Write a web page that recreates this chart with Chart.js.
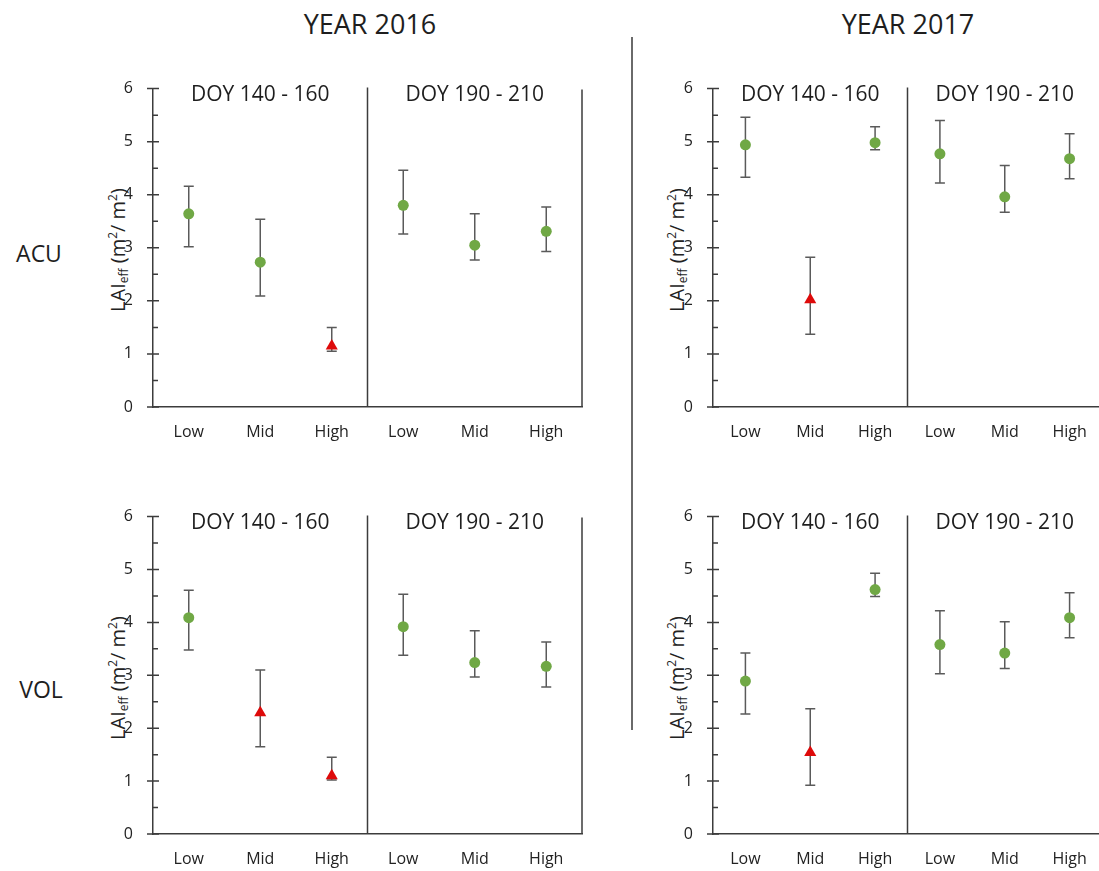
<!DOCTYPE html>
<html>
<head>
<meta charset="utf-8">
<script src="https://cdn.jsdelivr.net/npm/chart.js@4/dist/chart.umd.min.js"></script>
<style>
  html, body { margin:0; padding:0; background:#fff; width:1099px; height:871px; overflow:hidden; position:relative; font-family:"Open Sans", sans-serif; color:#222; }
  .cv { position:absolute; }
  .txt { position:absolute; white-space:nowrap; color:#1e1e1e; }
  .year { font-size:27px; transform:translate(-50%,-50%); }
  .row { font-size:23px; transform:translate(-50%,-50%); }
  .ytitle { font-size:20px; transform:translate(-50%,-50%) rotate(-90deg); color:#222; }
  .ytitle sub { font-size:12px; vertical-align:-3px; }
  .ytitle sup { font-size:12px; vertical-align:8px; }
  #sep { position:absolute; left:631px; top:37px; width:2px; height:693px; background:#6a6a6a; }
</style>
</head>
<body>
<div class="txt year" style="left:370px; top:23px;">YEAR 2016</div>
<div class="txt year" style="left:908px; top:23px;">YEAR 2017</div>
<div class="txt row" style="left:39px; top:253px;">ACU</div>
<div class="txt row" style="left:41px; top:689px;">VOL</div>
<div id="sep"></div>
<div class="txt ytitle" style="left:118px; top:250px;">LAI<sub>eff</sub> (m<sup>2</sup>/ m<sup>2</sup>)</div>
<div class="txt ytitle" style="left:677px; top:250px;">LAI<sub>eff</sub> (m<sup>2</sup>/ m<sup>2</sup>)</div>
<div class="txt ytitle" style="left:118px; top:678px;">LAI<sub>eff</sub> (m<sup>2</sup>/ m<sup>2</sup>)</div>
<div class="txt ytitle" style="left:677px; top:678px;">LAI<sub>eff</sub> (m<sup>2</sup>/ m<sup>2</sup>)</div>

<canvas id="c1" class="cv"></canvas>
<canvas id="c2" class="cv"></canvas>
<canvas id="c3" class="cv"></canvas>
<canvas id="c4" class="cv"></canvas>

<script>
// ---- data ----
const categories = ['Low','Mid','High','Low','Mid','High'];
const groupTitles = ['DOY 140 - 160','DOY 190 - 210'];
const yTickValues = [0,1,2,3,4,5,6];

const acu2016Mean  = [3.64, 2.73, 1.15, 3.80, 3.05, 3.31];
const acu2016Upper = [4.16, 3.54, 1.50, 4.46, 3.64, 3.77];
const acu2016Lower = [3.02, 2.09, 1.05, 3.26, 2.77, 2.93];
const acu2016Red   = [false, false, true, false, false, false];

const acu2017Mean  = [4.94, 2.02, 4.98, 4.77, 3.96, 4.68];
const acu2017Upper = [5.46, 2.82, 5.28, 5.40, 4.55, 5.15];
const acu2017Lower = [4.33, 1.37, 4.85, 4.22, 3.67, 4.30];
const acu2017Red   = [false, true, false, false, false, false];

const vol2016Mean  = [4.09, 2.29, 1.10, 3.92, 3.24, 3.17];
const vol2016Upper = [4.61, 3.10, 1.45, 4.53, 3.84, 3.63];
const vol2016Lower = [3.48, 1.65, 1.02, 3.38, 2.97, 2.78];
const vol2016Red   = [false, true, true, false, false, false];

const vol2017Mean  = [2.89, 1.54, 4.62, 3.58, 3.42, 4.09];
const vol2017Upper = [3.42, 2.37, 4.93, 4.22, 4.01, 4.56];
const vol2017Lower = [2.27, 0.92, 4.49, 3.03, 3.13, 3.71];
const vol2017Red   = [false, true, false, false, false, false];

// ---- styling ----
const GREEN = '#70a845';
const RED = '#de0a0a';
const AXIS = '#3c3c3c';
const ERR = '#5a5a5a';
const FONT = '"Open Sans", sans-serif';
const YW = 45, XH = 42, PADTOP = 16, PADRIGHT = 2;

const panelPlugin = {
  id: 'panelDecor',
  beforeDatasetsDraw(chart) {
    const ctx = chart.ctx;
    const xs = chart.scales.x, ys = chart.scales.y;
    const p = chart.options.plugins.panelDecor;
    ctx.save();
    ctx.strokeStyle = ERR;
    ctx.lineWidth = 1.5;
    for (let i = 0; i < p.upper.length; i++) {
      const x = xs.getPixelForValue(i);
      const yt = ys.getPixelForValue(p.upper[i]);
      const yb = ys.getPixelForValue(p.lower[i]);
      ctx.beginPath();
      ctx.moveTo(x, yt); ctx.lineTo(x, yb);
      ctx.moveTo(x - 5, yt); ctx.lineTo(x + 5, yt);
      ctx.moveTo(x - 5, yb); ctx.lineTo(x + 5, yb);
      ctx.stroke();
    }
    ctx.restore();
  },
  afterDraw(chart) {
    const ctx = chart.ctx;
    const xs = chart.scales.x, ys = chart.scales.y;
    const ca = chart.chartArea;
    ctx.save();
    ctx.strokeStyle = AXIS;
    ctx.lineWidth = 1.5;
    ctx.beginPath();
    for (const v of yTickValues) {
      const y = ys.getPixelForValue(v);
      ctx.moveTo(ca.left - 6, y); ctx.lineTo(ca.left + 6, y);
      if (v < 6) {
        const ym = ys.getPixelForValue(v + 0.5);
        ctx.moveTo(ca.left, ym); ctx.lineTo(ca.left + 5, ym);
      }
    }
    ctx.stroke();
    const xd = (xs.getPixelForValue(2) + xs.getPixelForValue(3)) / 2;
    ctx.beginPath();
    ctx.moveTo(xd, ca.top - 1); ctx.lineTo(xd, ca.bottom);
    ctx.moveTo(ca.right, ca.top + 1); ctx.lineTo(ca.right, ca.bottom);
    ctx.stroke();
    ctx.fillStyle = '#1e1e1e';
    ctx.font = '21px ' + FONT;
    ctx.textAlign = 'center';
    ctx.textBaseline = 'middle';
    const g1 = (ca.left + xd) / 2, g2 = (xd + ca.right) / 2;
    ctx.fillText(groupTitles[0], g1, ca.top + 6);
    ctx.fillText(groupTitles[1], g2, ca.top + 6);
    ctx.restore();
  }
};

function buildConfig(mean, upper, lower, red) {
  const greenData = mean.map((v, i) => red[i] ? null : v);
  const redData = mean.map((v, i) => red[i] ? v : null);
  return {
    type: 'line',
    data: {
      labels: categories,
      datasets: [
        { data: greenData, showLine: false, pointStyle: 'circle', pointRadius: 5.5,
          pointBackgroundColor: GREEN, pointBorderColor: GREEN, pointBorderWidth: 0 },
        { data: redData, showLine: false, pointStyle: 'triangle', pointRadius: 7,
          pointBackgroundColor: RED, pointBorderColor: RED, pointBorderWidth: 0 }
      ]
    },
    options: {
      responsive: false,
      maintainAspectRatio: false,
      animation: false,
      layout: { padding: { top: PADTOP, right: PADRIGHT, left: 0, bottom: 0 } },
      plugins: {
        legend: { display: false },
        title: { display: false },
        tooltip: { enabled: false },
        panelDecor: { upper, lower }
      },
      scales: {
        x: {
          type: 'category',
          offset: true,
          grid: { display: false, drawTicks: false },
          border: { display: true, color: AXIS, width: 1.5 },
          ticks: { color: '#222', font: { family: FONT, size: 16 }, padding: 16, maxRotation: 0, autoSkip: false },
          afterFit(s) { s.height = XH; }
        },
        y: {
          min: 0, max: 6,
          grid: { display: false, drawTicks: false },
          border: { display: true, color: AXIS, width: 1.5 },
          ticks: { stepSize: 1, color: '#222', font: { family: FONT, size: 16 }, padding: 20 },
          afterFit(s) { s.width = YW; }
        }
      }
    },
    plugins: [panelPlugin]
  };
}

// place a panel so that its plot area spans [areaLeft, areaLeft+areaW] x [areaTop, areaTop+areaH]
function makePanel(id, areaLeft, areaTop, areaW, areaH, mean, upper, lower, red) {
  const cv = document.getElementById(id);
  const W = YW + areaW + PADRIGHT;
  // probe: find where the library puts the plot top
  let H = PADTOP + areaH + XH;
  cv.width = W; cv.height = H;
  cv.style.width = W + 'px'; cv.style.height = H + 'px';
  let chart = new Chart(cv, buildConfig(mean, upper, lower, red));
  const t0 = chart.chartArea.top;
  const b0 = H - chart.chartArea.bottom;
  const l0 = chart.chartArea.left;
  chart.destroy();
  H = Math.round(t0 + areaH + b0);
  cv.width = W; cv.height = H;
  cv.style.width = W + 'px'; cv.style.height = H + 'px';
  cv.style.left = (areaLeft - l0) + 'px';
  cv.style.top = (areaTop - t0) + 'px';
  chart = new Chart(cv, buildConfig(mean, upper, lower, red));
  return chart;
}

makePanel('c1', 153, 89, 434, 318, acu2016Mean, acu2016Upper, acu2016Lower, acu2016Red);
makePanel('c2', 713, 89, 394, 318, acu2017Mean, acu2017Upper, acu2017Lower, acu2017Red);
makePanel('c3', 153, 517, 434, 317, vol2016Mean, vol2016Upper, vol2016Lower, vol2016Red);
makePanel('c4', 713, 517, 394, 317, vol2017Mean, vol2017Upper, vol2017Lower, vol2017Red);
</script>
</body>
</html>
